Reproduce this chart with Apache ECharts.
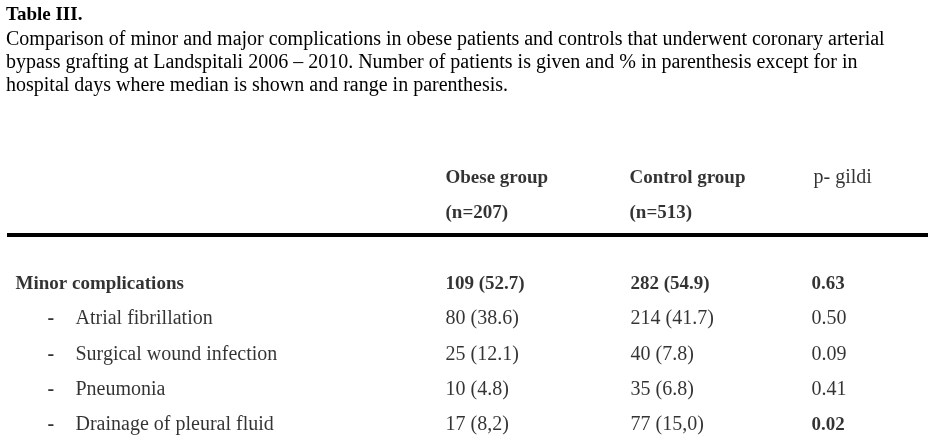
<!DOCTYPE html>
<html>
<head>
<meta charset="utf-8">
<script src="https://cdn.jsdelivr.net/npm/echarts@6/dist/echarts.min.js"></script>
<style>
html,body{margin:0;padding:0;background:#fff;}
#chart{width:935px;height:446px;}
</style>
</head>
<body>
<div id="chart"></div>
<script>
// ---- data ----
const tableTitle = 'Table III.';
const captionLines = [
  'Comparison of minor and major complications in obese patients and controls that underwent coronary arterial',
  'bypass grafting at Landspitali 2006 \u2013 2010. Number of patients is given and % in parenthesis except for in',
  'hospital days where median is shown and range in parenthesis.'
];
const columnHeaders = ['Obese group', 'Control group', 'p- gildi'];
const groupSizes = ['(n=207)', '(n=513)'];
const sectionLabel = 'Minor complications';
const itemLabels = ['Atrial fibrillation', 'Surgical wound infection', 'Pneumonia', 'Drainage of pleural fluid'];
const obeseValues = ['109 (52.7)', '80 (38.6)', '25 (12.1)', '10 (4.8)', '17 (8,2)'];
const controlValues = ['282 (54.9)', '214 (41.7)', '40 (7.8)', '35 (6.8)', '77 (15,0)'];
const pValues = ['0.63', '0.50', '0.09', '0.41', '0.02'];
const pBold = [true, false, false, false, true];

const rowKeys = ['header', 'n', 'rule', sectionLabel].concat(itemLabels);
const colKeys = ['label', 'spacer', 'obese', 'control', 'p'];
const bodyRows = [sectionLabel].concat(itemLabels);

// ---- build ----
const FONT = "'Liberation Serif', 'Times New Roman', serif";
function textSeries(name, data, extraLabel) {
  return {
    type: 'scatter',
    name: name,
    silent: true,
    symbolSize: 1,
    itemStyle: { color: 'rgba(0,0,0,0)' },
    data: data,
    label: Object.assign({
      show: true,
      position: 'right',
      distance: 0,
      color: '#000',
      fontFamily: FONT,
      fontSize: 20,
      formatter: function (p) { return p.value[2]; }
    }, extraLabel || {})
  };
}

const BOLD = { fontWeight: 'bold', fontSize: 19 };
const headerData = [
  { value: ['obese', 'header', columnHeaders[0]], label: BOLD },
  { value: ['control', 'header', columnHeaders[1]], label: BOLD },
  { value: ['p', 'header', columnHeaders[2]], label: { fontWeight: 'normal' } },
  { value: ['obese', 'n', groupSizes[0]], label: BOLD },
  { value: ['control', 'n', groupSizes[1]], label: BOLD }
];

const sectionData = [{ value: ['label', sectionLabel, sectionLabel], label: BOLD }];
const itemData = itemLabels.map(function (l) { return { value: ['label', l, l] }; });
const dashData = itemLabels.map(function (l) { return { value: ['label', l, '-'] }; });

function colData(col, arr, boldArr) {
  return arr.map(function (v, i) {
    const bold = boldArr ? boldArr[i] : (i === 0);
    return { value: [col, bodyRows[i], v], label: bold ? BOLD : {} };
  });
}

const chart = echarts.init(document.getElementById('chart'));
chart.setOption({
  animation: false,
  backgroundColor: '#fff',
  title: {
    text: tableTitle,
    subtext: captionLines.join('\n'),
    left: 6,
    top: 5,
    itemGap: 3,
    padding: 0,
    textStyle: { fontFamily: FONT, fontSize: 19, fontWeight: 'bold', color: '#000', lineHeight: 20 },
    subtextStyle: { fontFamily: FONT, fontSize: 20, color: '#000', lineHeight: 23 }
  },
  grid: { left: 75, right: 124, top: 178, bottom: 21 },
  xAxis: {
    type: 'category', data: colKeys, boundaryGap: false,
    axisLine: { show: false }, axisTick: { show: false }, axisLabel: { show: false }, splitLine: { show: false }
  },
  yAxis: {
    type: 'category', data: rowKeys, boundaryGap: false, inverse: true,
    axisLine: { show: false }, axisTick: { show: false }, axisLabel: { show: false }, splitLine: { show: false }
  },
  graphic: [{
    type: 'rect',
    shape: { x: 7, y: 233, width: 921, height: 4 },
    style: { fill: '#000' },
    silent: true
  }],
  series: [
    textSeries('headers', headerData, { offset: [2, 0] }),
    textSeries('section', sectionData, { offset: [-60, 0] }),
    textSeries('items', itemData),
    textSeries('dashes', dashData, { offset: [-28, 0], fontWeight: 'bold' }),
    textSeries('obese', colData('obese', obeseValues), { offset: [2, 0] }),
    textSeries('control', colData('control', controlValues), { offset: [3, 0] }),
    textSeries('p', colData('p', pValues, pBold))
  ]
});
</script>
</body>
</html>
